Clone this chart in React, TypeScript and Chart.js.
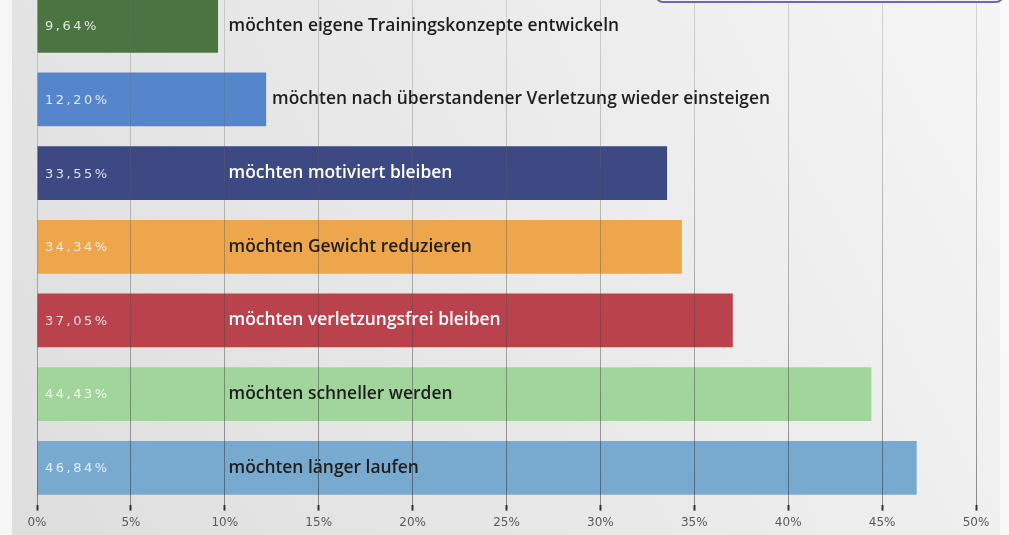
import React, { useEffect, useRef } from "react";
import { Chart, registerables } from "chart.js";

Chart.register(...registerables);

const categories = [
  "möchten eigene Trainingskonzepte entwickeln",
  "möchten nach überstandener Verletzung wieder einsteigen",
  "möchten motiviert bleiben",
  "möchten Gewicht reduzieren",
  "möchten verletzungsfrei bleiben",
  "möchten schneller werden",
  "möchten länger laufen",
];
const values = [9.64, 12.2, 33.55, 34.34, 37.05, 44.43, 46.84];
const valueLabels = ["9,64%", "12,20%", "33,55%", "34,34%", "37,05%", "44,43%", "46,84%"];
const tickLabels = ["0%", "5%", "10%", "15%", "20%", "25%", "30%", "35%", "40%", "45%", "50%"];
const barColors = ["#4b7442", "#5586cc", "#3c4983", "#eea64d", "#b9424d", "#a2d59b", "#78aad0"];
const labelColors = ["#1e1e1e", "#1e1e1e", "#ffffff", "#1e1e1e", "#ffffff", "#1e1e1e", "#1e1e1e"];

const bgPlugin = {
  id: "bg",
  beforeDraw(chart: any) {
    const { ctx, width, height } = chart;
    ctx.save();
    const g = ctx.createLinearGradient(width, 0, 0, height);
    g.addColorStop(0, "#f5f5f5");
    g.addColorStop(0.5, "#e9e9e9");
    g.addColorStop(1, "#dedede");
    ctx.fillStyle = g;
    ctx.fillRect(0, 0, width, height);
    ctx.fillStyle = "#f6f6f6";
    ctx.fillRect(0, 0, 12, height);
    ctx.fillStyle = "rgba(255,255,255,0.5)";
    ctx.fillRect(width - 9, 0, 9, height);
    ctx.restore();
  },
};

const labelPlugin = {
  id: "labels",
  afterDraw(chart: any) {
    const { ctx } = chart;
    const meta = chart.getDatasetMeta(0);
    const xs = chart.scales.x;
    const inside = xs.getPixelForValue(10.2);
    ctx.save();
    meta.data.forEach((bar: any, i: number) => {
      const y = bar.y;
      ctx.textBaseline = "middle";
      ctx.textAlign = "left";
      ctx.font = "13px 'DejaVu Sans'";
      (ctx as any).letterSpacing = "2.5px";
      ctx.fillStyle = "rgba(255,255,255,0.82)";
      ctx.fillText(valueLabels[i], xs.getPixelForValue(0) + 8, y + 1);
      (ctx as any).letterSpacing = "0px";
      ctx.font = "600 17.4px 'Open Sans'";
      ctx.fillStyle = labelColors[i];
      const x = bar.x > inside + 150 ? inside : Math.max(inside, bar.x + 6);
      ctx.fillText(categories[i], x, y);
    });
    ctx.restore();
  },
};

export default function App() {
  const ref = useRef<HTMLCanvasElement>(null);
  useEffect(() => {
    if (!ref.current) return;
    const chart = new Chart(ref.current, {
      type: "bar",
      data: {
        labels: categories,
        datasets: [
          {
            data: values,
            backgroundColor: barColors,
            borderWidth: 0,
            barPercentage: 0.73,
            categoryPercentage: 1,
          },
        ],
      },
      options: {
        indexAxis: "y",
        animation: false,
        responsive: true,
        maintainAspectRatio: false,
        layout: { padding: { left: 37, right: 33, top: 0, bottom: 0 } },
        plugins: { legend: { display: false }, tooltip: { enabled: false } },
        scales: {
          x: {
            min: 0,
            max: 50,
            ticks: {
              stepSize: 5,
              color: "#5a5a5a",
              padding: 5,
              font: { family: "'DejaVu Sans'", size: 12 },
              callback: (v: any) => tickLabels[Math.round(Number(v) / 5)],
            },
            grid: {
              z: 1,
              lineWidth: 1,
              color: (c: any) => {
                const ch = c.chart;
                const a = ch.chartArea;
                if (!a) return "rgba(90,90,90,0.35)";
                const g = ch.ctx.createLinearGradient(0, a.top, 0, a.bottom);
                g.addColorStop(0, "rgba(120,120,120,0.25)");
                g.addColorStop(1, "rgba(40,40,40,0.5)");
                return g;
              },
              tickLength: 6,
              tickWidth: 2,
              tickColor: "#333",
            },
            border: { display: false },
          },
          y: { display: false },
        },
      },
      plugins: [bgPlugin, labelPlugin],
    });
    return () => chart.destroy();
  }, []);
  return (
    <div style={{ position: "fixed", left: 0, top: 0, width: 1009, height: 535, overflow: "hidden" }}>
      <div style={{ position: "absolute", left: 0, top: -11, width: 1009, height: 546 }}>
        <canvas ref={ref} />
      </div>
      <div
        style={{
          position: "absolute",
          left: 655,
          top: -40,
          width: 345,
          height: 39,
          border: "2px solid #6e6aa8",
          borderRadius: 8,
          background: "#f3f3f5",
        }}
      />
    </div>
  );
}
